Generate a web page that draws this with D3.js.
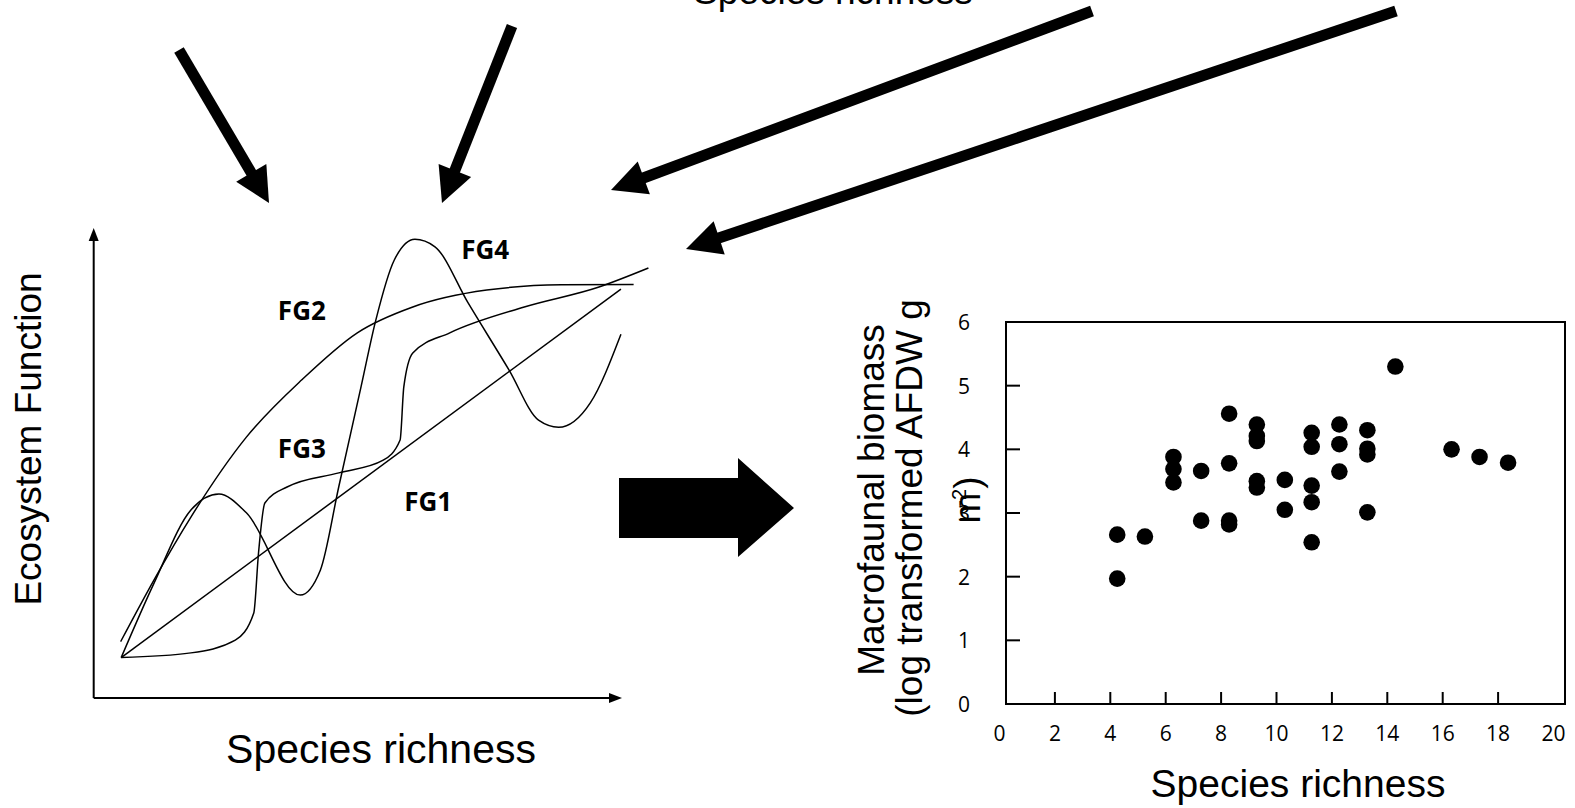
<!DOCTYPE html>
<html>
<head>
<meta charset="utf-8">
<script src="https://cdn.jsdelivr.net/npm/d3@7/dist/d3.min.js"></script>
<style>
  html, body { margin: 0; padding: 0; background: #fff; }
  svg { display: block; }
</style>
</head>
<body>
<svg id="fig" width="1575" height="808"></svg>
<script>
// scatter data: species richness vs macrofaunal biomass
const richness = [4.25, 4.25, 5.25, 6.28, 6.28, 6.28, 7.28, 7.28, 8.29, 8.29, 8.29, 8.29,
  9.29, 9.29, 9.29, 9.29, 9.29, 10.3, 10.3, 11.27, 11.27, 11.27, 11.27, 11.27,
  12.27, 12.27, 12.27, 13.28, 13.28, 13.28, 13.28, 14.29, 16.32, 17.33, 18.36];
const biomass = [2.66, 1.97, 2.63, 3.88, 3.69, 3.48, 3.66, 2.88, 4.56, 3.78, 2.88, 2.82,
  4.39, 4.21, 4.13, 3.50, 3.40, 3.52, 3.05, 4.26, 4.04, 3.43, 3.17, 2.54,
  4.39, 4.08, 3.65, 4.30, 4.01, 3.92, 3.01, 5.30, 4.00, 3.88, 3.79];
const xTickLabels = [0, 2, 4, 6, 8, 10, 12, 14, 16, 18, 20];
const yTickLabels = [0, 1, 2, 3, 4, 5, 6];

// conceptual curves (0-100 units on both axes)
const fg1 = [[5.2, 8.6], [99.8, 87.0]];
const fg2 = [[5.1, 12.0], [11.4, 25.1], [18.4, 38.5], [28.9, 55.5], [39.4, 67.7], [49.9, 77.7],
  [60.4, 83.2], [74.4, 86.8], [88.5, 87.9], [102.2, 88.0]];
const fg3 = [[5.2, 8.6], [18.4, 9.6], [26.8, 12.3], [30.3, 18.1], [31.2, 30.9], [32.4, 41.5],
  [36.6, 44.9], [46.4, 47.9], [54.8, 50.6], [58.0, 54.9], [58.7, 66.2], [60.4, 73.4],
  [67.4, 77.7], [81.5, 83.2], [95.5, 87.4], [105, 91.5]];
const fg4 = [[5.2, 8.6], [11.4, 24.4], [18.4, 40.0], [23.7, 43.4], [28.9, 39.4], [39.1, 21.9],
  [42.9, 27.2], [46.4, 45.0], [50.6, 66.2], [53.4, 80.4], [56.9, 93.2], [60.8, 97.6],
  [64.6, 96.0], [70.9, 84.0], [78.6, 69.8], [84.2, 59.1], [88.0, 57.6], [94.0, 62.8], [99.8, 77.4]];
const fgNames = ["FG1", "FG2", "FG3", "FG4"];
const fgLabelPos = [[63.3, 42.0], [39.4, 82.5], [39.4, 53.2], [74.1, 95.5]];

// annotation arrows (page units)
const arrowTails = [[179, 50], [512, 26], [1092, 11], [1396, 11]];
const arrowTips = [[269, 203], [442, 203], [611, 190], [686, 249]];

const svg = d3.select("#fig");
const page = d3.scaleIdentity();

// ---------- left conceptual panel ----------
const cx = d3.scaleLinear().domain([0, 100]).range([93.7, 622]);
const cy = d3.scaleLinear().domain([0, 100]).range([698, 228]);

const left = svg.append("g");
left.append("line").attr("x1", cx(0)).attr("y1", cy(0)).attr("x2", cx(0)).attr("y2", cy(100) + 10)
  .attr("stroke", "#000").attr("stroke-width", 2);
left.append("line").attr("x1", cx(0)).attr("y1", cy(0)).attr("x2", cx(100) - 10).attr("y2", cy(0))
  .attr("stroke", "#000").attr("stroke-width", 2);
left.append("path")
  .attr("d", `M${cx(0)},${cy(100)} L${cx(0) - 5},${cy(100) + 13} L${cx(0) + 5},${cy(100) + 13} Z`)
  .attr("fill", "#000");
left.append("path")
  .attr("d", `M${cx(100)},${cy(0)} L${cx(100) - 13},${cy(0) - 5} L${cx(100) - 13},${cy(0) + 5} Z`)
  .attr("fill", "#000");

const curve = d3.line().x(d => cx(d[0])).y(d => cy(d[1])).curve(d3.curveMonotoneX);
left.selectAll("path.fg")
  .data([fg1, fg2, fg3, fg4])
  .enter()
  .append("path")
  .attr("class", "fg")
  .attr("d", curve)
  .attr("fill", "none")
  .attr("stroke", "#000")
  .attr("stroke-width", 1.5);

left.selectAll("text.fgl")
  .data(fgNames)
  .enter()
  .append("text")
  .attr("x", (d, i) => cx(fgLabelPos[i][0]))
  .attr("y", (d, i) => cy(fgLabelPos[i][1]))
  .attr("text-anchor", "middle")
  .attr("dominant-baseline", "central")
  .style("font", "bold 26px 'Open Sans'")
  .text(d => d);

left.append("text")
  .attr("transform", "translate(41,439) rotate(-90)")
  .attr("text-anchor", "middle")
  .style("font", "37px 'Liberation Sans'")
  .text("Ecosystem Function");
left.append("text")
  .attr("x", 381).attr("y", 763)
  .attr("text-anchor", "middle")
  .style("font", "41px 'Liberation Sans'")
  .text("Species richness");

// top (cropped) title
svg.append("text")
  .attr("x", 833).attr("y", 4)
  .attr("text-anchor", "middle")
  .style("font", "37px 'Liberation Sans'")
  .text("Species richness");

// ---------- arrows ----------
const headLen = 35, headHalf = 17.5;
const arrows = svg.append("g");
arrowTails.forEach((t, i) => {
  const tip = arrowTips[i];
  const dx = page(tip[0]) - page(t[0]), dy = page(tip[1]) - page(t[1]);
  const len = Math.hypot(dx, dy), ux = dx / len, uy = dy / len;
  const bx = page(tip[0]) - ux * headLen, by = page(tip[1]) - uy * headLen;
  arrows.append("line")
    .attr("x1", page(t[0])).attr("y1", page(t[1]))
    .attr("x2", bx + ux * 2).attr("y2", by + uy * 2)
    .attr("stroke", "#000").attr("stroke-width", 11);
  arrows.append("path")
    .attr("d", `M${page(tip[0])},${page(tip[1])} L${bx - uy * headHalf},${by + ux * headHalf} L${bx + uy * headHalf},${by - ux * headHalf} Z`)
    .attr("fill", "#000");
});

// big block arrow
arrows.append("path")
  .attr("d", "M619,478 L738,478 L738,458 L794,508 L738,557 L738,538 L619,538 Z")
  .attr("fill", "#000");

// ---------- scatter panel ----------
const x = d3.scaleLinear().domain([0, 20]).range([999.5, 1553.5]);
const y = d3.scaleLinear().domain([0, 6]).range([704, 322]);
const sc = svg.append("g");

sc.append("rect")
  .attr("x", 1006).attr("y", y(6))
  .attr("width", 1565 - 1006).attr("height", y(0) - y(6))
  .attr("fill", "none").attr("stroke", "#000").attr("stroke-width", 2);

sc.selectAll("line.xt")
  .data(xTickLabels.slice(1, -1))
  .enter().append("line")
  .attr("x1", d => x(d)).attr("x2", d => x(d))
  .attr("y1", y(0)).attr("y2", y(0) - 12)
  .attr("stroke", "#000").attr("stroke-width", 2);
sc.selectAll("line.yt")
  .data(yTickLabels.slice(1, -1))
  .enter().append("line")
  .attr("x1", 1006).attr("x2", 1006 + 14)
  .attr("y1", d => y(d)).attr("y2", d => y(d))
  .attr("stroke", "#000").attr("stroke-width", 2);

sc.selectAll("text.xl")
  .data(xTickLabels)
  .enter().append("text")
  .attr("x", d => x(d)).attr("y", 733)
  .attr("text-anchor", "middle").attr("dominant-baseline", "central")
  .style("font", "21px 'Open Sans'")
  .text(d => d);
sc.selectAll("text.yl")
  .data(yTickLabels)
  .enter().append("text")
  .attr("x", 964).attr("y", d => y(d))
  .attr("text-anchor", "middle").attr("dominant-baseline", "central")
  .style("font", "21px 'Open Sans'")
  .text(d => d);

sc.selectAll("circle")
  .data(richness)
  .enter().append("circle")
  .attr("cx", d => x(d))
  .attr("cy", (d, i) => y(biomass[i]))
  .attr("r", 8.3)
  .attr("fill", "#000");

sc.append("text")
  .attr("x", 1298).attr("y", 797)
  .attr("text-anchor", "middle")
  .style("font", "39px 'Liberation Sans'")
  .text("Species richness");

sc.append("text")
  .attr("transform", "translate(884,500) rotate(-90)")
  .attr("text-anchor", "middle")
  .style("font", "37px 'Liberation Sans'")
  .text("Macrofaunal biomass");
sc.append("text")
  .attr("transform", "translate(922,508) rotate(-90)")
  .attr("text-anchor", "middle")
  .style("font", "37px 'Liberation Sans'")
  .text("(log transformed AFDW g");
const m2 = sc.append("text")
  .attr("transform", "translate(980,500) rotate(-90)")
  .attr("text-anchor", "middle")
  .style("font", "37px 'Liberation Sans'");
m2.append("tspan").text("m");
m2.append("tspan").attr("dx", -14).attr("dy", -14).style("font-size", "20px").text("-2");
m2.append("tspan").attr("dy", 14).text(")");
</script>
</body>
</html>
